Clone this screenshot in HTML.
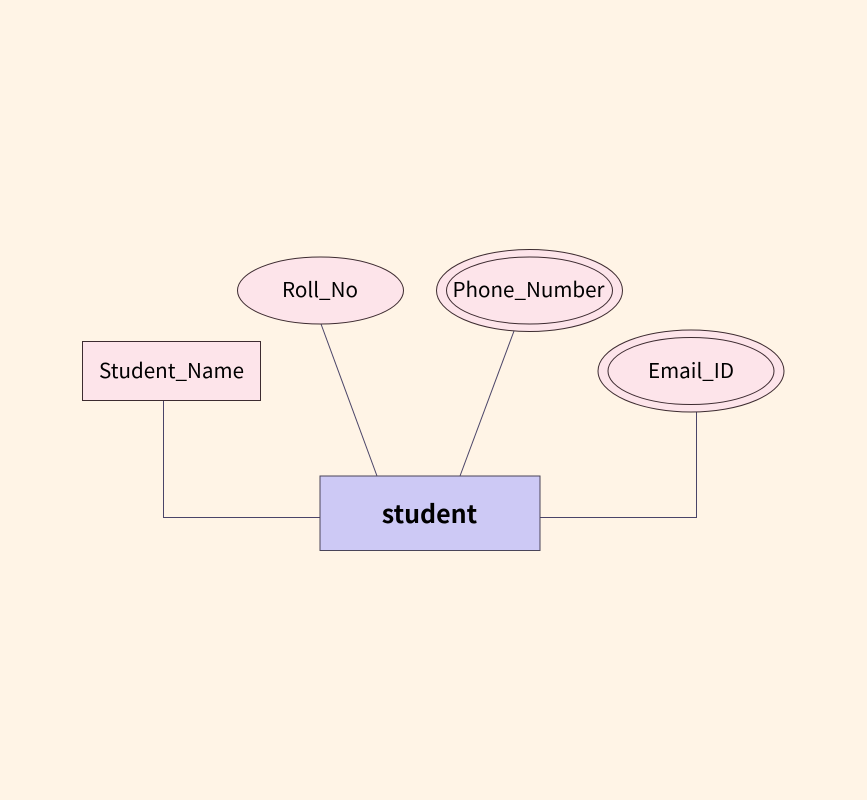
<!DOCTYPE html>
<html>
<head>
<meta charset="utf-8">
<style>
html,body{margin:0;padding:0;background:#fff4e6;width:867px;height:800px;overflow:hidden}
svg{display:block}
text{font-family:"Noto Sans CJK SC","Liberation Sans",sans-serif;fill:#000;text-anchor:middle}
</style>
</head>
<body>
<svg width="867" height="800" viewBox="0 0 867 800" xmlns="http://www.w3.org/2000/svg">
<rect width="867" height="800" fill="#fff4e6"/>
<g fill="none" stroke="#4a4468" stroke-width="1">
<path d="M163.500 400.500V517.500H320"/>
<path d="M321 324L377 476"/>
<path d="M514 331L460 476"/>
<path d="M696.500 412V517.500H540"/>
</g>
<g stroke="#3d2b30" stroke-width="1" fill="#fde4ea">
<rect x="82.500" y="341.500" width="178" height="59"/>
<ellipse cx="320.500" cy="290.500" rx="83" ry="33.500"/>
<ellipse cx="529.500" cy="290.500" rx="93" ry="41"/>
<ellipse cx="529.500" cy="290.500" rx="83" ry="33.500"/>
<ellipse cx="691" cy="371" rx="93" ry="41"/>
<ellipse cx="691" cy="371" rx="83" ry="33.500"/>
</g>
<rect x="320" y="476" width="220" height="74.500" fill="#cdc9f5" stroke="#4a4458" stroke-width="1"/>
<text x="171.500" y="378" font-size="20.600">Student_Name</text>
<text x="320" y="297" font-size="20.600">Roll_No</text>
<text x="528.500" y="297" font-size="20.600">Phone_Number</text>
<text x="691" y="378" font-size="20.600">Email_ID</text>
<text x="429.500" y="523" font-size="25" font-weight="700">student</text>
</svg>
</body>
</html>
